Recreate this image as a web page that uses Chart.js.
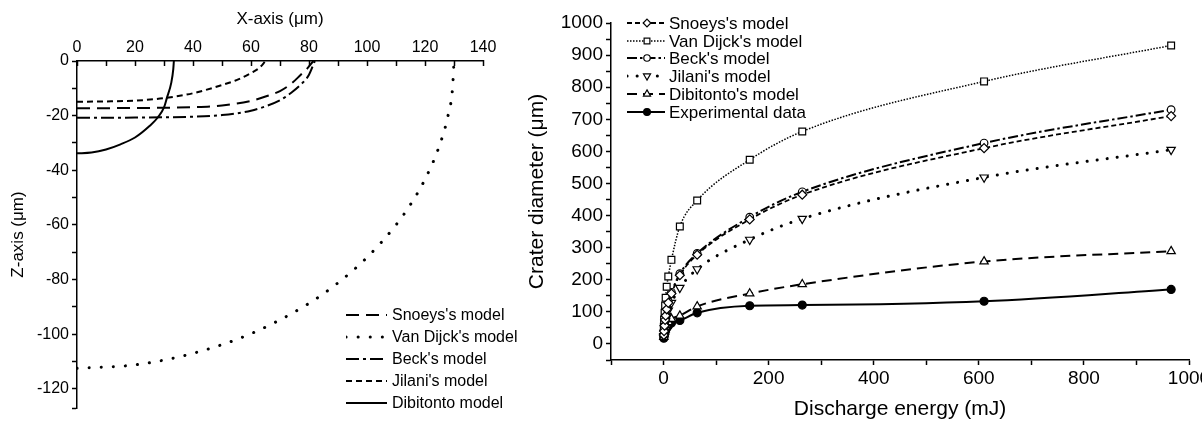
<!DOCTYPE html>
<html><head><meta charset="utf-8">
<script src="https://cdn.jsdelivr.net/npm/chart.js@4.4.1/dist/chart.umd.min.js"></script>
<style>
html,body{margin:0;padding:0;background:#fff;}
body{width:1202px;height:423px;overflow:hidden;position:relative;font-family:"Liberation Sans",Arial,sans-serif;}
.wrap{position:absolute;top:0;}
.leg{position:absolute;left:0;top:0;color:#000;white-space:nowrap;}
.row{position:absolute;height:20px;}
.row svg{position:absolute;top:0;}
.row span{position:absolute;top:50%;transform:translateY(-50%);line-height:1;}
</style></head><body>
<div class="wrap" style="left:0;width:505px;height:423px"><canvas id="c1" width="505" height="423"></canvas></div>
<div class="wrap" style="left:495px;width:720px;height:423px"><canvas id="c2" width="720" height="423"></canvas></div>
<div id="legL" class="leg"></div>
<div id="legR" class="leg"></div>
<script>
// ---------- Left panel: crater profiles (X-axis, Z-axis in µm) ----------
const snoeysX    = [0, 20, 40, 50, 60, 65, 70, 74, 77, 79.5, 81.5];
const snoeysZ    = [-17.3, -17.2, -16.9, -16.3, -14.6, -13.0, -11.0, -8.2, -5.2, -2.6, 0];
const vanDijckX  = [0, 20, 40, 60, 80, 90, 100, 110, 115, 120, 125, 128, 129.5, 130];
const vanDijckZ  = [-112.5, -111.2, -107.0, -99.8, -88.7, -81.2, -71.9, -60.0, -52.5, -43.3, -30.9, -19.7, -9.9, 0];
const beckX      = [0, 20, 40, 50, 60, 65, 70, 74, 77, 80, 82];
const beckZ      = [-20.8, -20.7, -20.4, -19.8, -18.2, -16.6, -14.4, -11.5, -8.8, -5.0, 0];
const jilaniX    = [0, 10, 20, 30, 40, 50, 55, 60, 63, 65];
const jilaniZ    = [-14.9, -14.8, -14.5, -13.6, -11.8, -8.8, -7.0, -4.4, -2.4, 0];
const dibitontoX = [0, 5, 10, 15, 20, 25, 28, 30, 31, 32.5, 33.2, 33.4];
const dibitontoZ = [-33.8, -33.5, -32.4, -30.5, -28.0, -23.8, -20.5, -17.0, -13.5, -8.0, -3.0, 0];
const leftLabels = ["Snoeys's model", "Van Dijck's model", "Beck's model", "Jilani's model", "Dibitonto model"];

// ---------- Right panel: crater diameter (µm) vs discharge energy (mJ) ----------
const energy     = [0.5, 1, 2, 3, 4, 6, 9, 15, 31, 64, 164, 264, 610, 966];
const snoeysD    = [28, 40, 57, 75, 88, 108, 128, 157, 214, 278, 388, 465, 610, 710];
const vanDijckD  = [54, 75, 97, 120, 144, 178, 210, 262, 366, 447, 574, 662, 818, 930];
const beckD      = [30, 42, 60, 78, 92, 112, 132, 161, 219, 282, 395, 474, 626, 730];
const jilaniD    = [25, 35, 48, 62, 72, 88, 104, 128, 175, 233, 325, 390, 519, 605];
const dibitontoD = [22, 30, 38, 46, 52, 60, 68, 78, 88, 117, 157, 186, 257, 289];
const experimentalD = [18, 25, 32, 38, 43, 50, 56, 65, 73, 97, 119, 121, 133, 170];
const rightLabels = ["Snoeys's model", "Van Dijck's model", "Beck's model", "Jilani's model", "Dibitonto's model", "Experimental data"];

const FONT = '"Liberation Sans", Arial, sans-serif';
const pts = (xs, ys) => xs.map((x, i) => ({x: x, y: ys[i]}));
const noPadX = s => { s.paddingLeft = 0; s.paddingRight = 0; };
const noPadY = s => { s.paddingTop = 0; s.paddingBottom = 0; };

// ---------- Left chart ----------
const leftStyles = [
  {dash: [13, 7], w: 2, cap: 'butt'},
  {dash: [0.1, 12], w: 3, cap: 'round'},
  {dash: [13, 4, 3, 4], w: 2, cap: 'butt'},
  {dash: [6, 4], w: 2, cap: 'butt'},
  {dash: [], w: 2, cap: 'butt'}
];
const leftData = [pts(snoeysX, snoeysZ), pts(vanDijckX, vanDijckZ), pts(beckX, beckZ), pts(jilaniX, jilaniZ), pts(dibitontoX, dibitontoZ)];
const leftDatasets = leftData.map((d, i) => ({
  label: leftLabels[i], data: d, showLine: true, borderColor: '#000',
  borderWidth: leftStyles[i].w, borderDash: leftStyles[i].dash, borderCapStyle: leftStyles[i].cap,
  pointRadius: 0, cubicInterpolationMode: 'monotone', fill: false
}));

const tickFontL = {size: 16, family: FONT};
const chartL = new Chart(document.getElementById('c1'), {
  type: 'scatter',
  data: {datasets: leftDatasets},
  options: {
    responsive: false, animation: false, devicePixelRatio: 1,
    layout: {padding: {left: 0, top: 0, right: 22, bottom: 15}},
    plugins: {legend: {display: false}, tooltip: {enabled: false}},
    scales: {
      x: {
        type: 'linear', position: 'top', min: 0, max: 140,
        ticks: {stepSize: 10, autoSkip: false, maxRotation: 0, padding: 9, color: '#000', font: tickFontL,
                callback: v => (v % 20 === 0 ? String(v) : '')},
        grid: {drawOnChartArea: false, drawTicks: true, tickLength: -5, tickColor: '#000', tickWidth: 1.5},
        border: {display: true, color: '#000', width: 1.5},
        title: {display: true, text: 'X-axis (μm)', color: '#000', font: {size: 17, family: FONT}, padding: {top: 9, bottom: 0}},
        afterFit: s => { s.height = 61; noPadX(s); }
      },
      y: {
        type: 'linear', min: -127, max: 0,
        ticks: {stepSize: 10, autoSkip: false, padding: 3, color: '#000', font: tickFontL,
                callback: v => (v % 20 === 0 ? String(v) : '')},
        grid: {drawOnChartArea: false, drawTicks: true, tickLength: 5, tickColor: '#000', tickWidth: 1.5},
        border: {display: true, color: '#000', width: 1.5},
        title: {display: true, text: 'Z-axis (μm)', color: '#000', font: {size: 17, family: FONT}, padding: {top: 8, bottom: 0}},
        afterFit: s => { s.width = 77; noPadY(s); }
      }
    }
  }
});

// ---------- Right chart ----------
const rightSeries = [snoeysD, vanDijckD, beckD, jilaniD, dibitontoD, experimentalD];
const rightStyles = [
  {dash: [5, 3], w: 1.8, cap: 'butt', ps: 'rectRot', pr: 4.5, fillC: '#fff', rot: 0},
  {dash: [1.5, 1.5], w: 1.5, cap: 'butt', ps: 'rect', pr: 4.8, fillC: '#fff', rot: 0},
  {dash: [10, 3, 2.5, 3], w: 2, cap: 'butt', ps: 'circle', pr: 3.8, fillC: '#fff', rot: 0},
  {dash: [0.1, 10], w: 3, cap: 'round', ps: 'triangle', pr: 4.8, fillC: '#fff', rot: 180},
  {dash: [10, 6], w: 2, cap: 'butt', ps: 'triangle', pr: 4.8, fillC: '#fff', rot: 0},
  {dash: [], w: 2, cap: 'butt', ps: 'circle', pr: 4, fillC: '#000', rot: 0}
];
const rightDatasets = rightSeries.map((s, i) => ({
  label: rightLabels[i], data: pts(energy, s), showLine: true, borderColor: '#000',
  borderWidth: rightStyles[i].w, borderDash: rightStyles[i].dash, borderCapStyle: rightStyles[i].cap,
  pointStyle: rightStyles[i].ps, pointRadius: rightStyles[i].pr, pointRotation: rightStyles[i].rot,
  pointBackgroundColor: rightStyles[i].fillC, pointBorderColor: '#000', pointBorderWidth: 1.2,
  cubicInterpolationMode: 'monotone', fill: false
}));

const tickFontR = {size: 19, family: FONT};
const chartR = new Chart(document.getElementById('c2'), {
  type: 'scatter',
  data: {datasets: rightDatasets},
  options: {
    responsive: false, animation: false, devicePixelRatio: 1,
    layout: {padding: {left: 0, top: 23, right: 26, bottom: 0}},
    plugins: {legend: {display: false}, tooltip: {enabled: false}},
    scales: {
      x: {
        type: 'linear', position: 'bottom', min: -100, max: 1000,
        ticks: {stepSize: 100, autoSkip: false, maxRotation: 0, padding: 2, color: '#000', font: tickFontR,
                callback: v => (v >= 0 && v % 200 === 0 ? String(v) : '')},
        grid: {drawOnChartArea: false, drawTicks: true, tickLength: 5, tickColor: '#000', tickWidth: 1.5},
        border: {display: true, color: '#000', width: 1.5},
        title: {display: true, text: 'Discharge energy (mJ)', color: '#000', font: {size: 21, family: FONT}, padding: {top: 0, bottom: 1}},
        afterFit: s => { s.height = 63; noPadX(s); }
      },
      y: {
        type: 'linear', min: -50, max: 1000,
        ticks: {stepSize: 50, autoSkip: false, padding: 3, color: '#000', font: tickFontR,
                callback: v => (v >= 0 && v % 100 === 0 ? String(v) : '')},
        grid: {drawOnChartArea: false, drawTicks: true, tickLength: 5, tickColor: '#000', tickWidth: 1.5},
        border: {display: true, color: '#000', width: 1.5},
        title: {display: true, text: 'Crater diameter (μm)', color: '#000', font: {size: 21, family: FONT}, padding: {top: 30, bottom: 0}},
        afterFit: s => { s.width = 116; noPadY(s); }
      }
    }
  }
});

// ---------- HTML legends built from the datasets ----------
function markerSvg(ds, cx, cy) {
  const r = ds.pointRadius, fillC = ds.pointBackgroundColor, sw = ds.pointBorderWidth;
  if (ds.pointStyle === 'circle') return `<circle cx="${cx}" cy="${cy}" r="${r * 0.85}" fill="${fillC}" stroke="#000" stroke-width="${sw}"/>`;
  if (ds.pointStyle === 'rect') { const h = r * Math.SQRT1_2 * 0.85; return `<rect x="${cx - h}" y="${cy - h}" width="${2 * h}" height="${2 * h}" fill="${fillC}" stroke="#000" stroke-width="${sw}"/>`; }
  if (ds.pointStyle === 'rectRot') { const h = r * 0.85; return `<polygon points="${cx},${cy - h} ${cx + h},${cy} ${cx},${cy + h} ${cx - h},${cy}" fill="${fillC}" stroke="#000" stroke-width="${sw}"/>`; }
  if (ds.pointStyle === 'triangle') {
    const h = r * 0.85, s = ds.pointRotation === 180 ? -1 : 1;
    return `<polygon points="${cx},${cy - s * h} ${cx + h * 0.866},${cy + s * h / 2} ${cx - h * 0.866},${cy + s * h / 2}" fill="${fillC}" stroke="#000" stroke-width="${sw}"/>`;
  }
  return '';
}
function buildLegend(el, datasets, opt) {
  let html = '';
  datasets.forEach((ds, i) => {
    const yc = opt.y0 + i * opt.dy;
    const dash = ds.borderDash.length ? ds.borderDash.join(' ') : 'none';
    let svg = `<svg width="${opt.sw}" height="20" style="left:${opt.sx}px"><line x1="0" y1="10" x2="${opt.sw}" y2="10" stroke="#000" stroke-width="${ds.borderWidth}" stroke-dasharray="${dash}" stroke-linecap="${ds.borderCapStyle}"/>`;
    if (opt.markers) svg += markerSvg(ds, opt.mx, 10);
    svg += '</svg>';
    html += `<div class="row" style="top:${yc - 10}px;left:0;width:1202px">${svg}<span style="left:${opt.tx}px;font-size:${opt.fs}px">${ds.label}</span></div>`;
  });
  el.innerHTML = html;
}
buildLegend(document.getElementById('legL'), chartL.data.datasets, {y0: 315, dy: 22, sx: 346, sw: 41, tx: 392, fs: 16, markers: false});
buildLegend(document.getElementById('legR'), chartR.data.datasets, {y0: 23, dy: 17.7, sx: 627, sw: 38, mx: 20, tx: 669, fs: 17, markers: true});
</script>
</body></html>
